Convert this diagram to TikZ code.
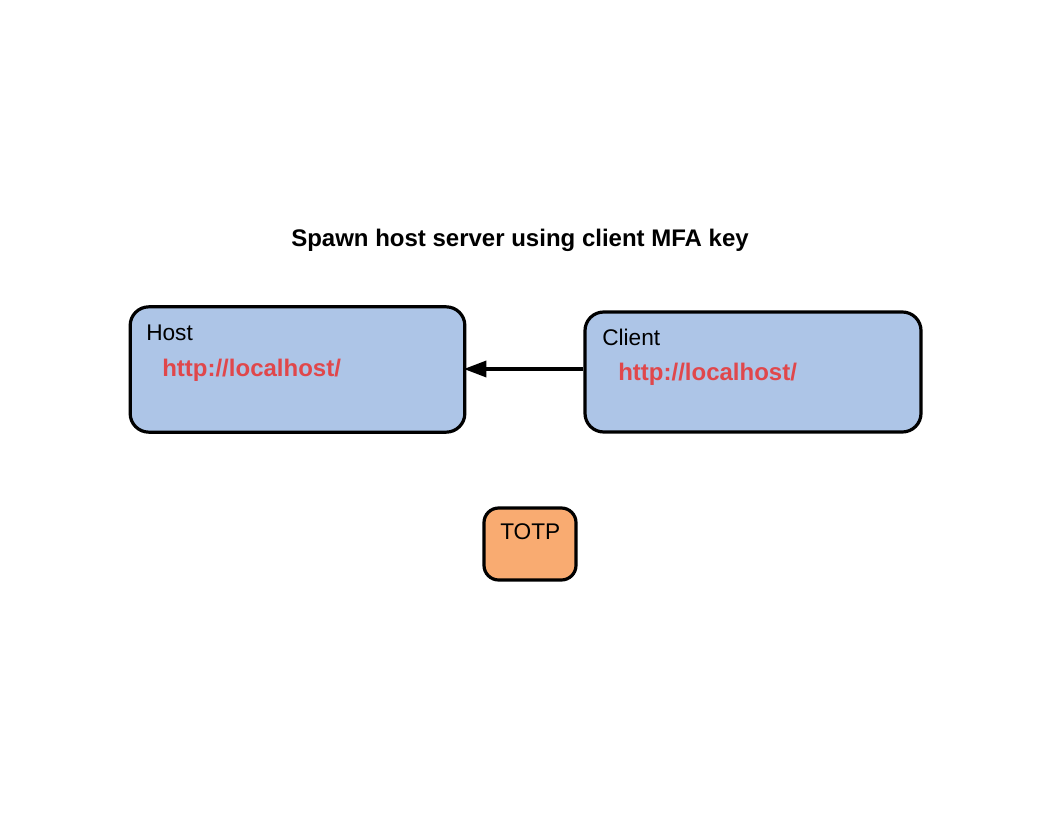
\documentclass[tikz,border=0pt]{standalone}
\usepackage{fontspec}
\setmainfont{Liberation Sans}
\usetikzlibrary{arrows.meta}
\definecolor{boxblue}{HTML}{ADC5E7}
\definecolor{urlred}{HTML}{E0474B}
\definecolor{totporange}{HTML}{F9AB71}
\tikzset{
    box/.style={draw, line width=2.4pt, rounded corners=14pt, inner sep=0pt},
    lbl/.style={anchor=base west, inner sep=0pt, font=\fontsize{17}{20}\selectfont},
    url/.style={anchor=base west, inner sep=0pt, text=urlred, font=\fontsize{18}{20}\selectfont\bfseries}
}
\begin{document}
\begin{tikzpicture}[x=0.75pt, y=-0.75pt]
    \useasboundingbox (0,0) rectangle (1056,816);

    % Titolo
    \node[anchor=base, inner sep=0pt, font=\fontsize{18}{20}\selectfont\bfseries] (title) at (520,247) {Spawn host server using client MFA key};

    % Nodi
    \node[box, fill=boxblue, minimum width=251pt, minimum height=94pt] (host) at (297.5,369.5) {};
    \node[box, fill=boxblue, minimum width=252pt, minimum height=90pt] (client) at (753,372) {};
    \node[box, fill=totporange, minimum width=69pt, minimum height=54pt, rounded corners=11pt] (totp) at (530,544) {};

    % Testi
    \node[lbl] (hostlbl) at (146,341) {Host};
    \node[url] (hosturl) at (162,377) {http://localhost/};
    \node[lbl] (clientlbl) at (602,345) {Client};
    \node[url] (clienturl) at (618,381) {http://localhost/};
    \node[lbl] (totplbl) at (500,539) {TOTP};

    % Freccia
    \draw[line width=2.6pt, -{Triangle[length=17pt, width=12pt]}, shorten >=-2pt] (client.west |- 0,369) -- (host.east |- 0,369);

\end{tikzpicture}
\end{document}
